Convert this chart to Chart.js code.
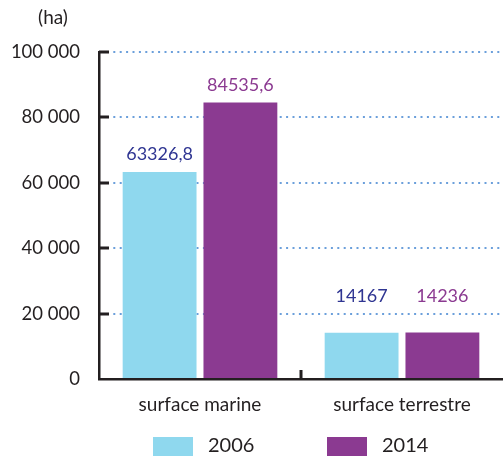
<!DOCTYPE html>
<html>
<head>
<meta charset="utf-8">
<script src="https://cdn.jsdelivr.net/npm/chart.js@4/dist/chart.umd.min.js"></script>
<style>
  html, body { margin: 0; padding: 0; background: #fff; }
  #wrap { width: 503px; height: 459px; position: relative; }
</style>
</head>
<body>
<div id="wrap"><canvas id="chart"></canvas></div>
<script>
// surfaces (ha), 2006 vs 2014
const categories = ["surface marine", "surface terrestre"];
const years = ["2006", "2014"];
const values2006 = [63326.8, 14167];
const values2014 = [84535.6, 14236];
const valueLabels2006 = ["63326,8", "14167"];
const valueLabels2014 = ["84535,6", "14236"];
const yTicks = [0, 20000, 40000, 60000, 80000, 100000];

const FONT = "Lato, 'Open Sans', sans-serif";
const INK = "#231f20";
const C = { blue: "#8fd8ee", purple: "#8b3a91", navy: "#2f3592", grid: "#6b9fdb" };

const fmtTick = (v) => v === 0 ? "0" : String(v).replace(/\B(?=(\d{3})+(?!\d))/g, " ");

// unit label, inward tick stubs, value labels and the legend row
const extras = {
  id: "extras",
  afterDatasetsDraw(chart) {
    const { ctx, chartArea: a, scales: { x, y } } = chart;
    ctx.save();
    ctx.fillStyle = INK;
    ctx.font = `19px ${FONT}`;
    ctx.textAlign = "center";
    ctx.textBaseline = "middle";
    ctx.fillText("(ha)", 53, 18);

    ctx.strokeStyle = INK;
    ctx.lineWidth = 3;
    ctx.beginPath();
    yTicks.forEach((t) => {
      if (t === 0) return;
      const py = Math.round(y.getPixelForValue(t));
      ctx.moveTo(a.left, py);
      ctx.lineTo(a.left + 10, py);
    });
    const mid = (x.getPixelForValue(0) + x.getPixelForValue(1)) / 2;
    ctx.moveTo(mid, a.bottom);
    ctx.lineTo(mid, a.bottom - 9);
    ctx.stroke();

    ctx.font = `18px ${FONT}`;
    ctx.textBaseline = "alphabetic";
    [[0, valueLabels2006, C.navy], [1, valueLabels2014, C.purple]].forEach(([di, labels, col]) => {
      ctx.fillStyle = col;
      chart.getDatasetMeta(di).data.forEach((bar, i) => {
        ctx.fillText(labels[i], bar.x, Math.min(bar.y, y.getPixelForValue(20000)) - 12);
      });
    });

    // legend: box + year, two items
    const boxX = [153, 327];
    ctx.font = `20px ${FONT}`;
    ctx.textAlign = "left";
    ctx.textBaseline = "middle";
    chart.data.datasets.forEach((ds, i) => {
      ctx.fillStyle = ds.backgroundColor;
      ctx.fillRect(boxX[i], 437, 40, 19);
      ctx.fillStyle = INK;
      ctx.fillText(ds.label, boxX[i] + 55, 446);
    });
    ctx.restore();
  },
};

new Chart(document.getElementById("chart"), {
  type: "bar",
  data: {
    labels: categories,
    datasets: [
      { label: years[0], data: values2006, backgroundColor: C.blue },
      { label: years[1], data: values2014, backgroundColor: C.purple },
    ],
  },
  options: {
    responsive: true, maintainAspectRatio: false, animation: false,
    categoryPercentage: 0.8, barPercentage: 0.914,
    layout: { padding: { top: 52, right: 0, left: 0, bottom: 0 } },
    plugins: { tooltip: { enabled: false }, legend: { display: false } },
    scales: {
      x: {
        grid: { display: false },
        border: { color: INK, width: 2.5 },
        ticks: { color: INK, padding: 6, font: { family: FONT, size: 19 } },
        afterFit: (s) => { s.height = 80; },
      },
      y: {
        min: 0, max: 100000,
        afterBuildTicks: (s) => { s.ticks = yTicks.map((v) => ({ value: v })); },
        afterFit: (s) => { s.width = 99; },
        border: { color: INK, width: 2.5, dash: [2, 4.4] },
        grid: {
          color: (c) => c.tick && c.tick.value === 0 ? "rgba(0,0,0,0)" : C.grid,
          lineWidth: 2, tickLength: 0,
        },
        ticks: { color: INK, padding: 19, callback: fmtTick, font: { family: FONT, size: 18.5 } },
      },
    },
  },
  plugins: [extras],
});
</script>
</body>
</html>
